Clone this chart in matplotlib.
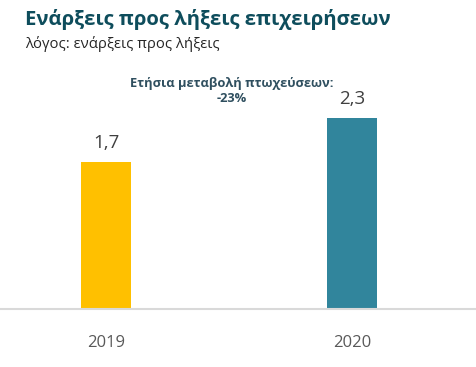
import matplotlib

matplotlib.use("Agg")
import matplotlib.pyplot as plt

# data
years = ["2019", "2020"]
ratios = [1.74, 2.26]
bar_colors = ["#FFC000", "#31859C"]
title = "Ενάρξεις προς λήξεις επιχειρήσεων"
subtitle = "λόγος: ενάρξεις προς λήξεις"
note = "Ετήσια μεταβολή πτωχεύσεων:\n-23%"

plt.rcParams["font.family"] = ["Open Sans", "DejaVu Sans"]

W, H = 476, 367
fig = plt.figure(figsize=(W / 100, H / 100), dpi=100)
ax = fig.add_axes([0, 58 / H, 1, 249 / H])

positions = list(range(len(years)))
ax.bar(positions, ratios, width=0.203, color=bar_colors)
ax.set_xlim(-0.431, 1.504)
ax.set_ylim(0, 2.95)

for x, v in zip(positions, ratios):
    label = f"{v:.1f}".replace(".", ",")
    ax.text(x, v + 0.12, label, ha="center", va="bottom", fontsize=13.5, color="#404040")

for spine in ("top", "right", "left"):
    ax.spines[spine].set_visible(False)
ax.spines["bottom"].set_color("#D9D9D9")
ax.spines["bottom"].set_linewidth(1.5)
ax.set_yticks([])
ax.set_xticks(positions, years)
ax.tick_params(axis="x", length=0, pad=19, labelsize=12, labelcolor="#595959")

fig.text(25 / W, 1 - 20 / H, title, ha="left", va="center", fontsize=14.6,
         fontweight="bold", color="#0E4D5C")
fig.text(25 / W, 1 - 44 / H, subtitle, ha="left", va="center", fontsize=10.7,
         color="#262626")
fig.text(232 / W, 1 - 91 / H, note, ha="center", va="center", fontsize=9.3,
         fontweight="bold", color="#2F4F5F", linespacing=1.25)

fig.savefig("out.png", dpi=100, facecolor="white")
